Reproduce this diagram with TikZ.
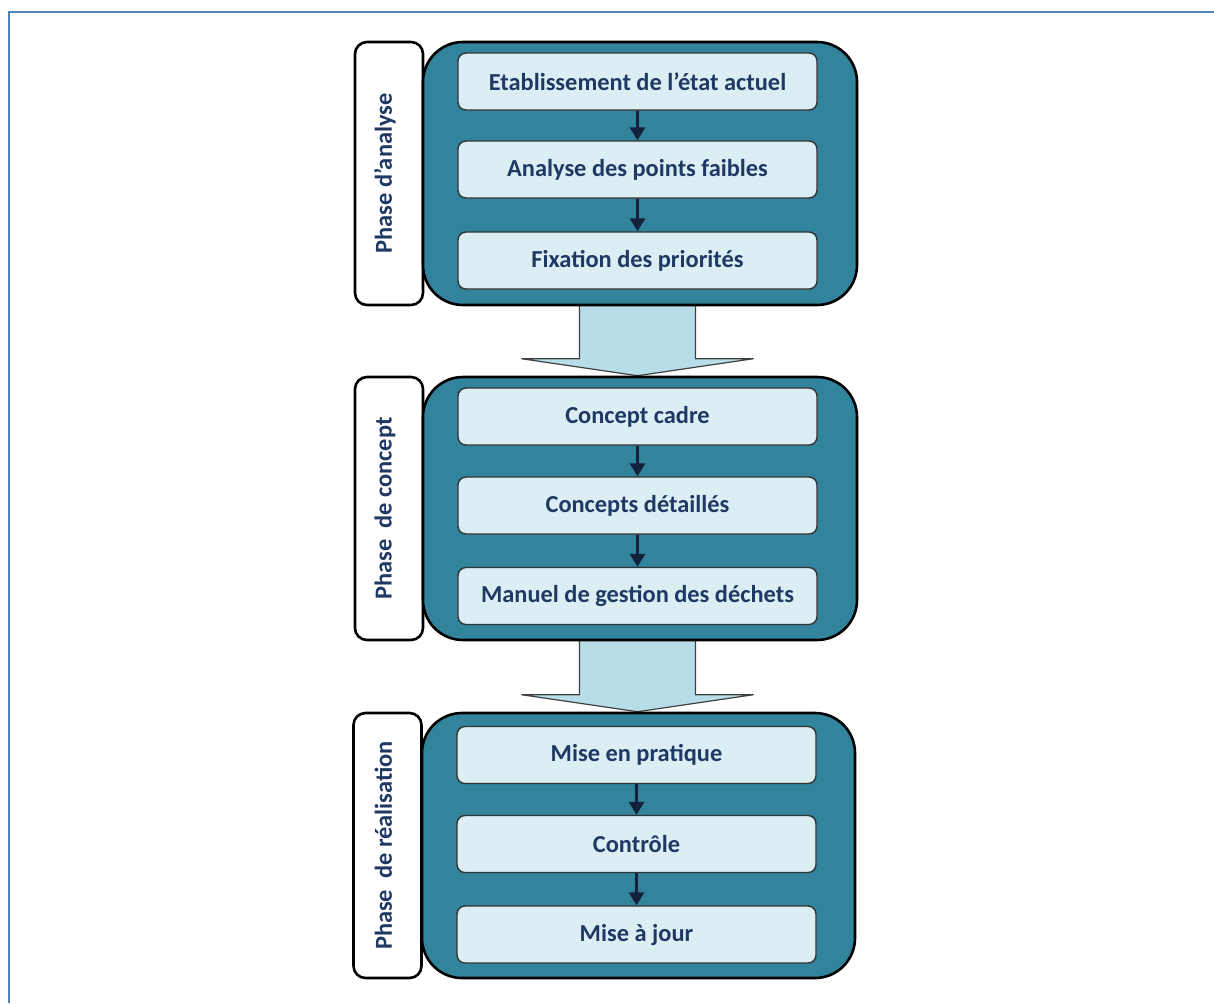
\documentclass[tikz,border=0pt]{standalone}
\usepackage{fontspec}
\setmainfont{Carlito}
\usetikzlibrary{calc,arrows.meta,backgrounds}
\definecolor{frameblue}{HTML}{4F81BD}
\definecolor{phaseteal}{HTML}{31849B}
\definecolor{stepfill}{HTML}{DAEEF3}
\definecolor{flowfill}{HTML}{B7DEE8}
\definecolor{textnavy}{HTML}{1F3864}
\definecolor{arrownavy}{HTML}{14213D}

\begin{document}
\begin{tikzpicture}[x=0.5pt,y=-0.5pt,
  phasebox/.style={draw=black, line width=1.3pt, fill=phaseteal, rounded corners=20pt,
    minimum width=217pt, minimum height=131.5pt, inner sep=0pt},
  labelbox/.style={draw=black, line width=1.3pt, fill=white, rounded corners=6pt,
    minimum width=34pt, minimum height=131.5pt, inner sep=0pt},
  stepbox/.style={draw=black!80, line width=0.7pt, fill=stepfill, rounded corners=4pt,
    minimum width=179.5pt, minimum height=28.5pt, inner sep=0pt,
    font=\fontsize{12.2}{14}\selectfont\bfseries, text=textnavy},
  labeltext/.style={rotate=90, inner sep=0pt,
    font=\fontsize{12.2}{14}\selectfont\bfseries, text=textnavy},
  link/.style={draw=arrownavy, line width=1.5pt, -{Triangle[width=7.5pt,length=6.5pt]}},
  flow/.style={draw=black!75, line width=0.6pt, fill=flowfill, line join=miter}
]
% page area and the two visible frame edges
\useasboundingbox (0,0) rectangle (1214,1003);

% analysis phase
\node[labelbox] (L1) at (389,173.5) {};
\node[labeltext] (t1) at ($(L1.center)+(-4,0)$) {Phase d’analyse};
\node[phasebox] (g1) at (640,173.5) {};
\node[stepbox] (a1) at (637.5,81.5) {Etablissement de l’état actuel};
\node[stepbox] (a2) at (637.5,169.5) {Analyse des points faibles};
\node[stepbox] (a3) at (637.5,260.5) {Fixation des priorités};
\draw[link] (a1) -- (a2);
\draw[link] (a2) -- (a3);

% concept phase
\node[labelbox] (L2) at (389,508.5) {};
\node[labeltext] (t2) at ($(L2.center)+(-4,0)$) {Phase\ \ de concept};
\node[phasebox] (g2) at (640,508.5) {};
\node[stepbox] (b1) at (637.5,416.5) {Concept cadre};
\node[stepbox] (b2) at (637.5,505.5) {Concepts détaillés};
\node[stepbox] (b3) at (637.5,596) {Manuel de gestion des déchets};
\draw[link] (b1) -- (b2);
\draw[link] (b2) -- (b3);

% realisation phase
\node[labelbox, minimum height=132.5pt] (L3) at (387.5,845.5) {};
\node[labeltext] (t3) at ($(L3.center)+(-4,0)$) {Phase\ \ de réalisation};
\node[phasebox, minimum width=216.5pt, minimum height=132.5pt] (g3) at (638.5,845.5) {};
\node[stepbox] (c1) at (636.5,755) {Mise en pratique};
\node[stepbox] (c2) at (636.5,844) {Contrôle};
\node[stepbox] (c3) at (636.5,934.5) {Mise à jour};
\draw[link] (c1) -- (c2);
\draw[link] (c2) -- (c3);

% white page, frame and block arrows between the phases, behind the boxes
\begin{scope}[on background layer]
  \fill[white] (0,0) rectangle (1214,1003);
  \draw[frameblue, line width=0.9pt] (9,1003) -- (9,12) -- (1214,12);
  \coordinate (p1) at (a3.south |- g1.south);
  \coordinate (q1) at (a3.south |- g2.north);
  \draw[flow] ($(p1)+(-58,-2)$) -- ($(q1)+(-58,-17)$) -- ($(q1)+(-116,-17)$) -- (q1)
    -- ($(q1)+(116,-17)$) -- ($(q1)+(58,-17)$) -- ($(p1)+(58,-2)$);
  \coordinate (p2) at (b3.south |- g2.south);
  \coordinate (q2) at (b3.south |- g3.north);
  \draw[flow] ($(p2)+(-58,-2)$) -- ($(q2)+(-58,-17)$) -- ($(q2)+(-116,-17)$) -- (q2)
    -- ($(q2)+(116,-17)$) -- ($(q2)+(58,-17)$) -- ($(p2)+(58,-2)$);
\end{scope}
\end{tikzpicture}
\end{document}
